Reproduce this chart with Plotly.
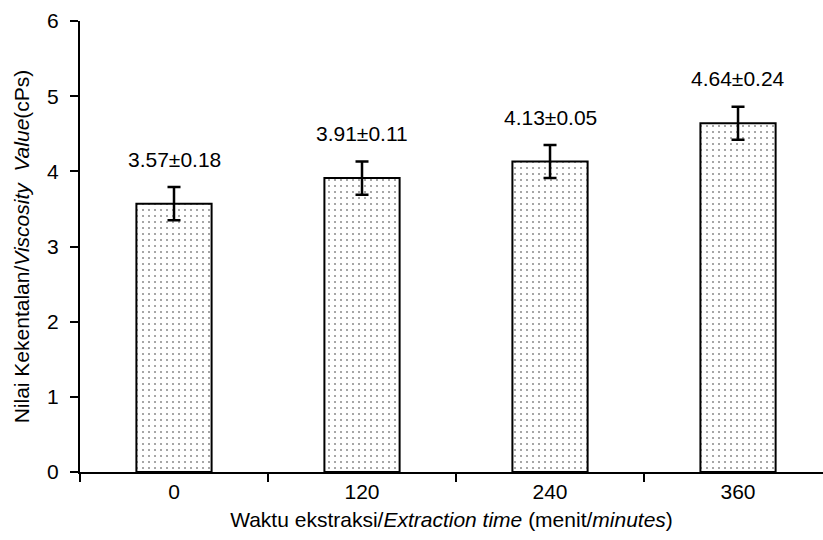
import plotly.graph_objects as go

categories = ["0", "120", "240", "360"]
viscosity = [3.57, 3.91, 4.13, 4.64]
error_bar = [0.22, 0.22, 0.22, 0.22]
value_labels = ["3.57±0.18", "3.91±0.11", "4.13±0.05", "4.64±0.24"]
y_ticks = [0, 1, 2, 3, 4, 5, 6]

FONT = "Arial, 'Liberation Sans', sans-serif"

fig = go.Figure()
fig.add_trace(go.Bar(
    x=categories,
    y=viscosity,
    width=0.4,
    marker=dict(
        color="white",
        line=dict(color="black", width=2),
        pattern=dict(shape=".", size=6, solidity=0.1, fgcolor="#222222", bgcolor="white"),
    ),
    error_y=dict(type="data", array=error_bar, visible=True, color="black", thickness=2.5, width=6.5),
    showlegend=False,
))

for i, (v, e, t) in enumerate(zip(viscosity, error_bar, value_labels)):
    fig.add_annotation(x=i, y=v + e, text=t, showarrow=False, yanchor="middle", yshift=28,
                       font=dict(family=FONT, size=21, color="black"))

fig.update_layout(
    width=823, height=540,
    margin=dict(l=80, r=0, t=21, b=68),
    paper_bgcolor="white", plot_bgcolor="white",
    font=dict(family=FONT, size=21, color="black"),
    bargap=0.6,
)
fig.update_xaxes(
    type="category",
    range=[-0.5, 3.452],
    tickson="boundaries",
    ticks="outside", ticklen=8, tickwidth=2, tickcolor="black",
    showline=True, linecolor="black", linewidth=2,
    showgrid=False, zeroline=False,
    tickfont=dict(size=21),
    title=dict(text="Waktu ekstraksi/<i>Extraction time</i> (menit/<i>minutes</i>)", font=dict(size=21), standoff=10),
)
fig.update_yaxes(
    range=[0, 6],
    tickvals=y_ticks,
    ticks="outside", ticklen=8, tickwidth=2, tickcolor="black",
    ticklabelstandoff=7,
    showline=True, linecolor="black", linewidth=2,
    showgrid=False, zeroline=False,
    tickfont=dict(size=21),
    title=dict(text="Nilai Kekentalan/<i>Viscosity  Value</i>(cPs)", font=dict(size=21), standoff=12),
)

fig.write_html("out.html")
